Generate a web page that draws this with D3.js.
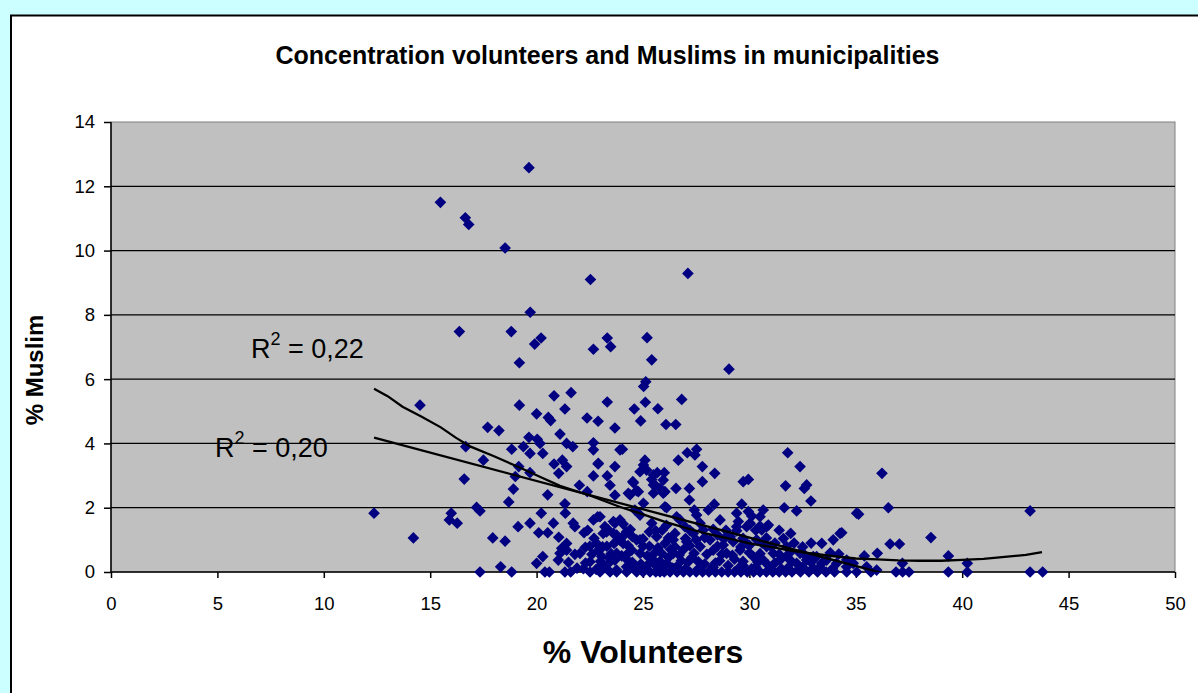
<!DOCTYPE html>
<html><head><meta charset="utf-8">
<script src="https://cdn.jsdelivr.net/npm/d3@7"></script>
<style>html,body{margin:0;padding:0;background:#CCFFFF;}svg{display:block;font-family:"Liberation Sans",Arial,sans-serif;}</style>
</head><body>
<svg id="c" width="1198" height="693"></svg>
<script>
const chartTitle = "Concentration volunteers and Muslims in municipalities";
const xTitle = "% Volunteers";
const yTitle = "% Muslim";
const xTicks = [0,5,10,15,20,25,30,35,40,45,50];
const yTicks = [0,2,4,6,8,10,12,14];
// [% volunteers, % Muslim] per municipality
const municipalities = [
[19.64,12.58],[15.48,11.50],[16.65,11.02],[16.81,10.81],[18.52,10.08],[22.53,9.10],[27.11,9.29],[19.70,8.08],
[16.37,7.48],[18.81,7.48],[20.21,7.28],[19.91,7.09],[23.32,7.28],[23.48,7.01],[22.67,6.93],[25.19,7.29],
[25.41,6.60],[19.19,6.51],[29.04,6.31],[25.13,5.92],[25.03,5.77],
[14.52,5.19],[19.19,5.19],[20.82,5.48],[21.62,5.58],[21.33,5.07],[23.32,5.29],[25.11,5.28],[24.59,5.07],
[25.70,5.08],[26.82,5.37],[20.0,4.92],[20.55,4.81],[20.66,4.71],[22.37,4.79],[22.89,4.69],[24.89,4.70],
[26.08,4.59],[26.54,4.59],[23.68,4.48],[17.70,4.50],[18.23,4.40],[21.10,4.29],[19.64,4.19],[20.03,4.13],
[20.16,4.0],[19.38,3.90],[16.67,3.90],[18.83,3.82],[19.69,3.69],[20.29,3.69],[21.41,4.0],[21.70,3.90],
[22.67,4.02],[22.67,3.80],[23.92,3.80],[24.03,3.82],[17.50,3.48],[20.82,3.36],[21.21,3.48],[21.41,3.28],
[22.89,3.36],[23.68,3.28],[19.16,3.28],[21.04,3.07],[22.67,2.99],[23.32,2.99],[16.60,2.89],[19.0,2.97],
[19.69,3.09],[23.45,2.70],[22.01,2.70],[18.91,2.58],[23.68,2.39],[20.52,2.40],[18.69,2.18],[21.33,2.12],
[12.36,1.83],[15.99,1.83],[15.9,1.62],[16.27,1.52],[17.18,2.01],[17.34,1.90],[20.22,1.83],[21.35,1.83],
[22.87,1.72],[22.67,1.62],[23.68,1.52],[19.69,1.52],[20.79,1.52],[21.72,1.52],[21.80,1.41],[19.13,1.41],
[23.21,1.41],[23.29,1.25],[23.61,1.2],[23.13,1.2],[20.10,1.22],[20.52,1.22],[22.23,1.22],[14.21,1.06],
[17.94,1.06],[18.52,0.96],[21.04,1.08],[21.41,0.89],[21.18,0.74],[22.29,0.77],[22.04,0.58],[22.82,0.89],
[22.90,0.68],[23.06,0.48],[23.64,0.89],[23.76,0.58],[23.68,0.37],[21.10,0.58],[21.02,0.37],[20.29,0.48],
[20.0,0.27],[18.31,0.16],[22.51,0.32],[22.98,0.16],
[25.09,3.48],[25.02,3.33],[24.86,3.12],[26.66,3.48],[27.08,3.71],[27.52,3.82],[27.44,3.64],[27.79,3.28],
[28.37,3.07],[25.67,3.09],[26.0,3.09],[24.52,2.81],[25.41,2.88],[25.56,2.71],[25.80,2.60],[25.49,2.45],
[25.95,2.45],[24.70,2.53],[24.39,2.40],[26.55,2.60],[27.18,2.60],[27.18,2.24],[27.79,2.81],[29.71,2.81],
[29.95,2.88],[31.80,3.71],[32.38,3.28],[31.70,2.68],[32.58,2.60],[32.69,2.71],[32.89,2.21],[26.11,2.0],
[27.41,1.93],[27.52,1.77],[28.35,2.11],[28.07,1.93],[29.64,2.11],[29.40,1.83],[29.95,1.88],[30.11,1.74],
[30.65,1.93],[30.50,1.72],[31.64,2.0],[32.22,1.90],[35.04,1.83],[28.62,1.62],[29.40,1.41],[30.03,1.49],
[30.50,1.43],[30.81,1.41],[25.41,1.52],[22.98,1.72],[23.61,1.57],[23.92,1.62],[24.07,1.49],[31.94,1.20],
[34.26,1.20],[33.94,1.0],[33.40,0.89],[24.86,1.0],[26.58,1.72],[26.74,1.62],[27.68,1.52],[31.75,0.79],
[32.38,0.58],[33.0,0.48],
[36.23,3.07],[36.53,2.0],[35.13,1.80],[43.19,1.90],[38.53,1.07],[36.61,0.87],[37.05,0.87],[36.01,0.58],
[35.40,0.50],[34.88,0.27],[34.57,0.16],[37.19,0.27],[39.35,0.50],[40.24,0.27],
[22.38,2.50],[22.90,3.38],[24.55,2.78],[24.31,2.45],[24.78,2.50],[25.17,3.17],[25.49,3.02],[25.95,2.86],
[25.49,2.71],[26.03,2.50],[25.02,2.14],[24.62,1.93],[24.86,1.77],[26.03,2.03],[23.37,1.31],[23.76,1.15],
[24.23,1.25],[24.70,1.0],[24.07,0.89],[24.47,0.68],[24.86,0.58],[21.41,0.68],[23.45,0.32],[23.76,0.06],
[24.23,0.16],[25.64,1.10],[26.03,0.89],[26.42,1.0],[25.87,0.58],[26.42,0.58],[25.49,0.37],[26.11,0.27],
[26.58,0.16],
[29.48,1.57],[30.03,1.52],[30.89,1.46],[30.58,1.31],[29.87,1.41],[34.34,1.22],[26.97,1.41],[27.36,1.20],
[27.83,1.31],[28.15,1.0],[27.68,0.79],[27.05,0.94],[28.30,0.68],[28.77,0.84],[29.24,0.94],[28.93,0.58],
[29.56,0.68],[29.87,0.89],[30.34,1.0],[30.81,0.79],[30.18,0.48],[30.65,0.37],[31.12,0.58],[31.44,0.37],
[31.75,0.48],[32.22,0.27],[32.69,0.37],[33.16,0.48],[33.63,0.37],[34.10,0.27],[34.57,0.37],[35.51,0.16],
[35.98,0.06],
[22.2,0.1],[22.6,0.55],[23.3,0.8],[23.4,0.45],[23.9,1.0],[24.0,0.5],[24.3,0.35],[24.5,1.1],[24.9,0.25],
[25.0,0.8],[25.2,0.5],[25.3,1.25],[25.6,0.2],[25.7,0.75],[25.9,1.3],[26.2,0.45],[26.3,0.7],[26.5,1.2],
[26.8,0.35],[26.9,0.7],[27.0,0.1],[27.3,0.45],[27.5,1.0],[27.9,0.25],[28.0,0.55],[28.3,0.15],[28.5,1.15],
[28.6,0.35],[29.0,0.2],[29.1,1.1],[29.3,0.4],[29.7,0.2],[30.0,0.6],[30.3,0.15],[30.6,0.9],[30.9,0.2],
[31.2,0.9],[31.5,0.1],[31.9,0.6],[32.1,0.9],[32.5,0.15],[32.9,0.9],[33.3,0.15],[33.8,0.6],[26.1,1.45],
[28.9,1.3],[31.4,1.3],
[21.9,0.12],[22.8,0.08],[23.2,0.14],[24.6,0.1],[25.1,0.12],[25.9,0.08],[26.4,0.12],[27.6,0.1],[28.2,0.08],
[29.5,0.12],[30.1,0.1],[31.0,0.1],[31.8,0.12],[32.3,0.08],[33.0,0.12],[33.9,0.1],
[21.5,0.3],[22.3,0.28],[23.0,0.33],[24.5,0.3],[25.3,0.27],[25.8,0.33],[27.1,0.3],[27.6,0.32],[28.4,0.28],
[29.7,0.33],[30.4,0.3],[31.2,0.28],[32.0,0.32],[32.9,0.3],[33.4,0.27],
[21.8,0.55],[23.5,0.57],[24.2,0.52],[25.5,0.56],[26.7,0.53],[27.4,0.58],[28.7,0.55],[29.2,0.52],[30.5,0.57],
[31.4,0.55],[32.6,0.53],[34.2,0.56],
[22.5,0.8],[23.1,0.78],[24.3,0.82],[25.3,0.8],[26.5,0.78],[27.2,0.82],[28.5,0.8],[29.6,0.78],[30.0,0.83],
[31.0,0.8],[32.5,0.78],
[22.7,1.05],[24.0,1.07],[25.0,1.03],[26.2,1.06],[27.0,1.04],[27.9,1.07],[28.8,1.03],[29.7,1.05],[30.8,1.06],
[31.6,1.04],
[22.4,1.3],[24.4,1.32],[25.6,1.28],[27.2,1.3],[28.3,1.33],[29.4,1.28],[30.3,1.3],
[17.34,0],[18.83,0],[20.39,0],[20.6,0],[21.33,0],[21.6,0],[22.51,0],[22.98,0],[23.45,0],[23.76,0],[24.23,0],
[24.7,0],[25.0,0],[25.33,0],[25.6,0],[25.8,0],[26.0,0],[26.27,0],[26.6,0],[26.9,0],[27.2,0],[27.5,0],[27.8,0],
[28.1,0],[28.4,0],[28.7,0],[29.0,0],[29.3,0],[29.6,0],[29.9,0],[30.2,0],[30.5,0],[30.8,0],[31.1,0],[31.4,0],
[31.7,0],[32.0,0],[32.4,0],[32.8,0],[33.2,0],[33.6,0],[34.0,0],[34.57,0],[35.04,0],[35.71,0],[36.89,0],
[37.2,0],[37.5,0],[39.35,0],[40.24,0],[43.19,0],[43.78,0]
];
// trendlines
const linearTrendX = [12.36, 43.78];
const linearTrendY = [4.18, -1.36];
const polyTrendX = [12.36,13.0,13.7,14.6,15.5,16.2,16.9,18.0,19.1,20.1,21.1,22.5,23.9,25,26,27,28,29,30,31,32,33,34,35,36,37,38,39,40,41,42,43,43.75];
const polyTrendY = [5.70,5.47,5.14,4.83,4.50,4.18,3.90,3.60,3.28,2.98,2.68,2.38,2.03,1.79,1.57,1.37,1.19,1.05,0.89,0.78,0.66,0.57,0.49,0.42,0.39,0.36,0.35,0.35,0.38,0.41,0.47,0.53,0.62];
const r2Labels = ["0,22","0,20"];

const svg = d3.select("#c");
const W = 1198, H = 693;
const L = 111, R = 1175, T = 122, B = 572;
const x = d3.scaleLinear().domain([0,50]).range([L,R]);
const y = d3.scaleLinear().domain([0,14]).range([B,T]);

svg.append("rect").attr("width",W).attr("height",H).attr("fill","#CCFFFF");
svg.append("rect").attr("x",11).attr("y",15.5).attr("width",W).attr("height",H)
  .attr("fill","#fff").attr("stroke","#000").attr("stroke-width",2);

svg.append("text").attr("x",607.5).attr("y",64).attr("text-anchor","middle")
  .attr("font-weight","bold").attr("font-size",25).text(chartTitle);

// plot area
svg.append("rect").attr("x",L).attr("y",T).attr("width",R-L).attr("height",B-T)
  .attr("fill","#C0C0C0").attr("stroke","#808080").attr("stroke-width",1);

// gridlines
svg.append("g").selectAll("line").data(yTicks.filter(t=>t>0 && t<14)).join("line")
  .attr("x1",L).attr("x2",R).attr("y1",d=>y(d)).attr("y2",d=>y(d))
  .attr("stroke","#000").attr("stroke-width",1.3);

// axes
const xAxis = d3.axisBottom(x).tickValues(xTicks).tickSize(6).tickPadding(19).tickFormat(d3.format("d"));
const gx = svg.append("g").attr("transform",`translate(0,${B})`).call(xAxis);
gx.select(".domain").attr("stroke","#000").attr("stroke-width",1.5).attr("d",`M${L},0H${R}`);
gx.selectAll(".tick line").attr("stroke","#000").attr("stroke-width",1.5);
gx.selectAll("text").attr("font-size",18.5).attr("fill","#000").attr("font-family","Liberation Sans, Arial, sans-serif");

const yAxis = d3.axisLeft(y).tickValues(yTicks).tickSize(7).tickPadding(9).tickFormat(d3.format("d"));
const gy = svg.append("g").attr("transform",`translate(${L},0)`).call(yAxis);
gy.select(".domain").attr("stroke","#000").attr("stroke-width",1.5).attr("d",`M0,${B}V${T}`);
gy.selectAll(".tick line").attr("stroke","#000").attr("stroke-width",1.5);
gy.selectAll("text").attr("font-size",18.5).attr("fill","#000").attr("font-family","Liberation Sans, Arial, sans-serif");

// axis titles
svg.append("text").attr("x",643).attr("y",663).attr("text-anchor","middle")
  .attr("font-weight","bold").attr("font-size",32).text(xTitle);
svg.append("text").attr("transform","translate(43,370) rotate(-90)").attr("text-anchor","middle")
  .attr("font-weight","bold").attr("font-size",24).text(yTitle);

// clip for trendlines
svg.append("clipPath").attr("id","pc").append("rect").attr("x",L).attr("y",T).attr("width",R-L).attr("height",B-T);

// markers
const sym = d3.symbol().type(d3.symbolSquare).size(68);
svg.append("g").selectAll("path").data(municipalities).join("path")
  .attr("d",sym).attr("fill","#000080")
  .attr("transform",d=>`translate(${x(d[0])},${y(d[1])}) rotate(45)`);

// trendlines
const line = d3.line().x(d=>x(d[0])).y(d=>y(d[1]));
const linPts = linearTrendX.map((v,i)=>[v,linearTrendY[i]]);
const polyPts = polyTrendX.map((v,i)=>[v,polyTrendY[i]]);
const tg = svg.append("g").attr("clip-path","url(#pc)");
tg.append("path").attr("d",line(linPts)).attr("fill","none").attr("stroke","#000").attr("stroke-width",2.3);
tg.append("path").attr("d",line(polyPts)).attr("fill","none").attr("stroke","#000").attr("stroke-width",2.3);

// R² labels
function r2(xp, yp, val){
  const t = svg.append("text").attr("x",xp).attr("y",yp).attr("font-size",27).attr("fill","#000");
  t.append("tspan").text("R");
  t.append("tspan").attr("font-size",18).attr("dy",-13).text("2");
  t.append("tspan").attr("dy",13).text(" = " + val);
}
r2(251, 358, r2Labels[0]);
r2(215, 457, r2Labels[1]);
</script>
</body></html>
